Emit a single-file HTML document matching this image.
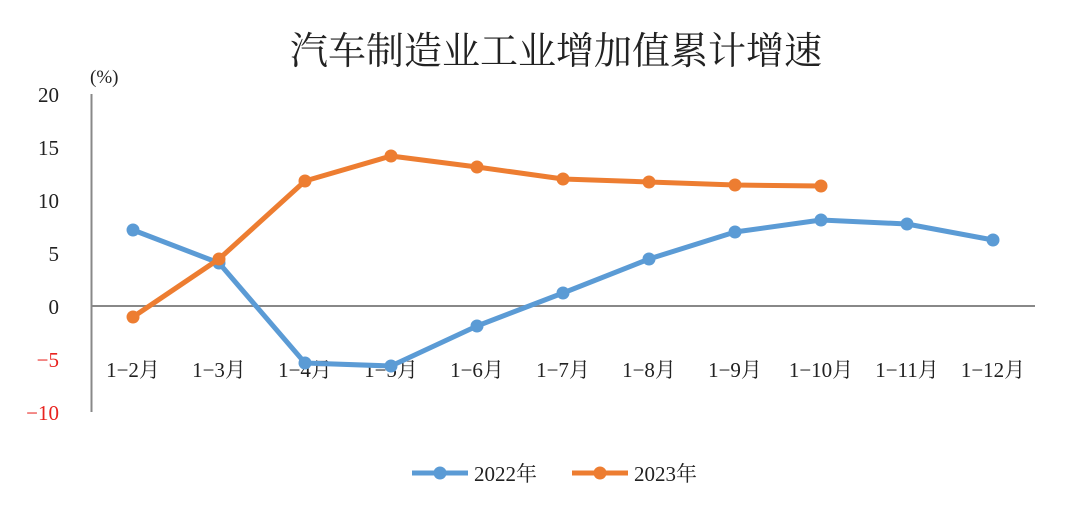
<!DOCTYPE html>
<html><head><meta charset="utf-8"><style>
html,body{margin:0;padding:0;background:#fff;width:1080px;height:505px;overflow:hidden}
svg text{font-family:"Liberation Serif","Noto Serif CJK SC",serif;fill:#222}
</style></head><body>
<svg width="1080" height="505" xmlns="http://www.w3.org/2000/svg">
<text x="556" y="64" font-size="38" text-anchor="middle">汽车制造业工业增加值累计增速</text>
<text x="90" y="83" font-size="19">(%)</text>
<g font-size="21" text-anchor="end">
<text x="59" y="102">20</text><text x="59" y="155">15</text><text x="59" y="208">10</text>
<text x="59" y="261">5</text><text x="59" y="314">0</text>
<text x="59" y="367" style="fill:#e8231f">−5</text><text x="59" y="420" style="fill:#e8231f">−10</text>
</g>
<line x1="91.5" y1="94" x2="91.5" y2="412" stroke="#888" stroke-width="2"/>
<line x1="91" y1="306" x2="1035" y2="306" stroke="#888" stroke-width="2"/>
<g font-size="21" text-anchor="middle">
<text x="133" y="377">1−2月</text><text x="219" y="377">1−3月</text><text x="305" y="377">1−4月</text>
<text x="391" y="377">1−5月</text><text x="477" y="377">1−6月</text><text x="563" y="377">1−7月</text>
<text x="649" y="377">1−8月</text><text x="735" y="377">1−9月</text><text x="821" y="377">1−10月</text>
<text x="907" y="377">1−11月</text><text x="993" y="377">1−12月</text>
</g>
<polyline fill="none" stroke="#5b9bd5" stroke-width="5" stroke-linejoin="round" points="133,230 219,263 305,363 391,366 477,326 563,293 649,259 735,232 821,220 907,224 993,240"/>
<g fill="#5b9bd5"><circle cx="133" cy="230" r="6.5"/><circle cx="219" cy="263" r="6.5"/><circle cx="305" cy="363" r="6.5"/><circle cx="391" cy="366" r="6.5"/><circle cx="477" cy="326" r="6.5"/><circle cx="563" cy="293" r="6.5"/><circle cx="649" cy="259" r="6.5"/><circle cx="735" cy="232" r="6.5"/><circle cx="821" cy="220" r="6.5"/><circle cx="907" cy="224" r="6.5"/><circle cx="993" cy="240" r="6.5"/></g>
<polyline fill="none" stroke="#ed7d31" stroke-width="5" stroke-linejoin="round" points="133,317 219,259 305,181 391,156 477,167 563,179 649,182 735,185 821,186"/>
<g fill="#ed7d31"><circle cx="133" cy="317" r="6.5"/><circle cx="219" cy="259" r="6.5"/><circle cx="305" cy="181" r="6.5"/><circle cx="391" cy="156" r="6.5"/><circle cx="477" cy="167" r="6.5"/><circle cx="563" cy="179" r="6.5"/><circle cx="649" cy="182" r="6.5"/><circle cx="735" cy="185" r="6.5"/><circle cx="821" cy="186" r="6.5"/></g>
<line x1="412" y1="473" x2="468" y2="473" stroke="#5b9bd5" stroke-width="5"/><circle cx="440" cy="473" r="6.5" fill="#5b9bd5"/>
<text x="474" y="481" font-size="21">2022年</text>
<line x1="572" y1="473" x2="628" y2="473" stroke="#ed7d31" stroke-width="5"/><circle cx="600" cy="473" r="6.5" fill="#ed7d31"/>
<text x="634" y="481" font-size="21">2023年</text>
</svg>
</body></html>
